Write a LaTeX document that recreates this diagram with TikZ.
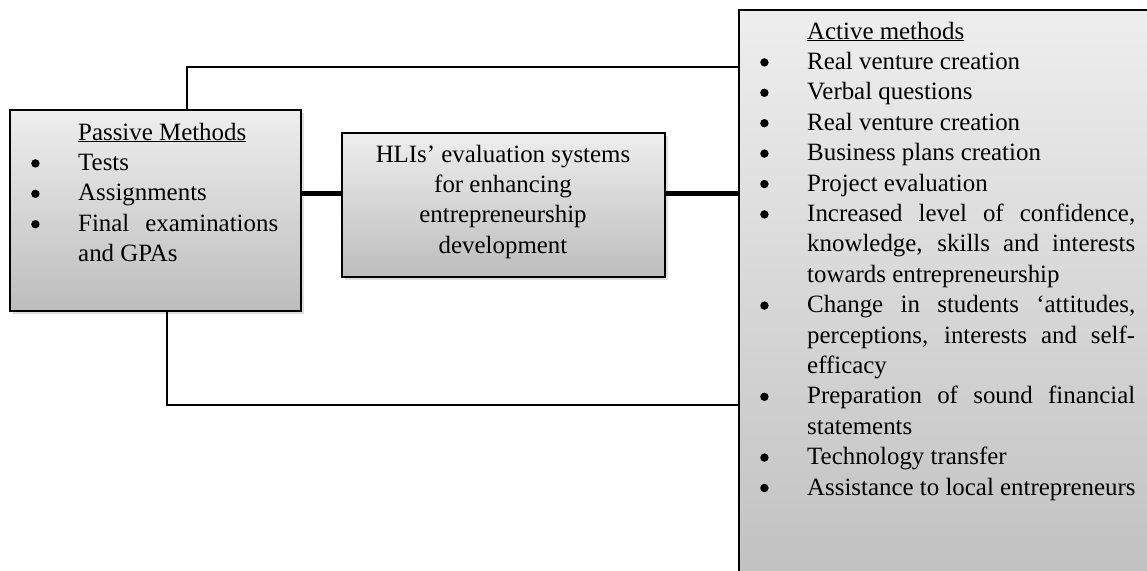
\documentclass[tikz,border=0pt]{standalone}
\usepackage{fontspec}
\setmainfont{Liberation Serif}
\usetikzlibrary{shadows}
\definecolor{boxtop}{HTML}{EEEEEE}
\definecolor{boxbot}{HTML}{BDBDBD}
\newcommand\bul{\makebox[47pt][l]{\raisebox{2.8pt}{\tikz[x=1pt,y=1pt]\fill (0,0) circle (4.2pt);}}}
\newcommand\ind{\hspace*{47pt}}
\newcommand\jst[1]{\makebox[328pt][s]{#1}}
\newcommand\txtfont{\fontsize{24.9pt}{30.4pt}\selectfont}
\begin{document}
\begin{tikzpicture}[x=1pt,y=-1pt,
  box/.style={draw=black, line width=2pt, top color=boxtop, bottom color=boxbot,
    drop shadow={shadow xshift=3pt, shadow yshift=-3pt, opacity=0.25},
    inner sep=0pt, anchor=north west},
  conn/.style={line width=1.4pt},
  bond/.style={line width=5pt},
  txt/.style={inner sep=0pt, anchor=base west}]
\clip (0,0) rectangle (1147,570);
\fill[white] (0,0) rectangle (1147,570);
% boxes
\node[box, minimum width=291pt, minimum height=201pt] (pas) at (9,109) {};
\node[box, minimum width=323pt, minimum height=144pt] (mid) at (341,132) {};
\node[box, minimum width=430pt, minimum height=620pt] (act) at (738,9) {};
% connectors
\draw[conn] ([xshift=178pt]pas.north west) |- ([yshift=-58pt]act.north west);
\draw[conn] ([xshift=158pt]pas.south west) |- ([yshift=-396pt]act.north west);
\draw[bond] (pas.east |- 0,193) -- (mid.west |- 0,193);
\draw[bond] (mid.east |- 0,193) -- (act.west |- 0,193);
% texts
\node[txt] (pastxt) at (31,140) {\parbox[t]{250pt}{\txtfont
\ind\underline{Passive Methods}\\
\bul Tests\\
\bul Assignments\\
\bul\makebox[200pt][s]{Final examinations}\\
\ind and GPAs}};
\node[inner sep=0pt, anchor=base] (midtxt) at (503,162) {\parbox[t]{310pt}{\txtfont\centering
HLIs’ evaluation systems\\
for enhancing\\
entrepreneurship\\
development}};
\node[txt] (acttxt) at (760,39) {\parbox[t]{380pt}{\txtfont
\ind\underline{Active methods}\\
\bul Real venture creation\\
\bul Verbal questions\\
\bul Real venture creation\\
\bul Business plans creation\\
\bul Project evaluation\\
\bul\jst{Increased level of confidence,}\\
\ind\jst{knowledge, skills and interests}\\
\ind towards entrepreneurship\\
\bul\jst{Change in students ‘attitudes,}\\
\ind\jst{perceptions, interests and self-}\\
\ind efficacy\\
\bul\jst{Preparation of sound financial}\\
\ind statements\\
\bul Technology transfer\\
\bul Assistance to local entrepreneurs}};
\end{tikzpicture}
\end{document}
